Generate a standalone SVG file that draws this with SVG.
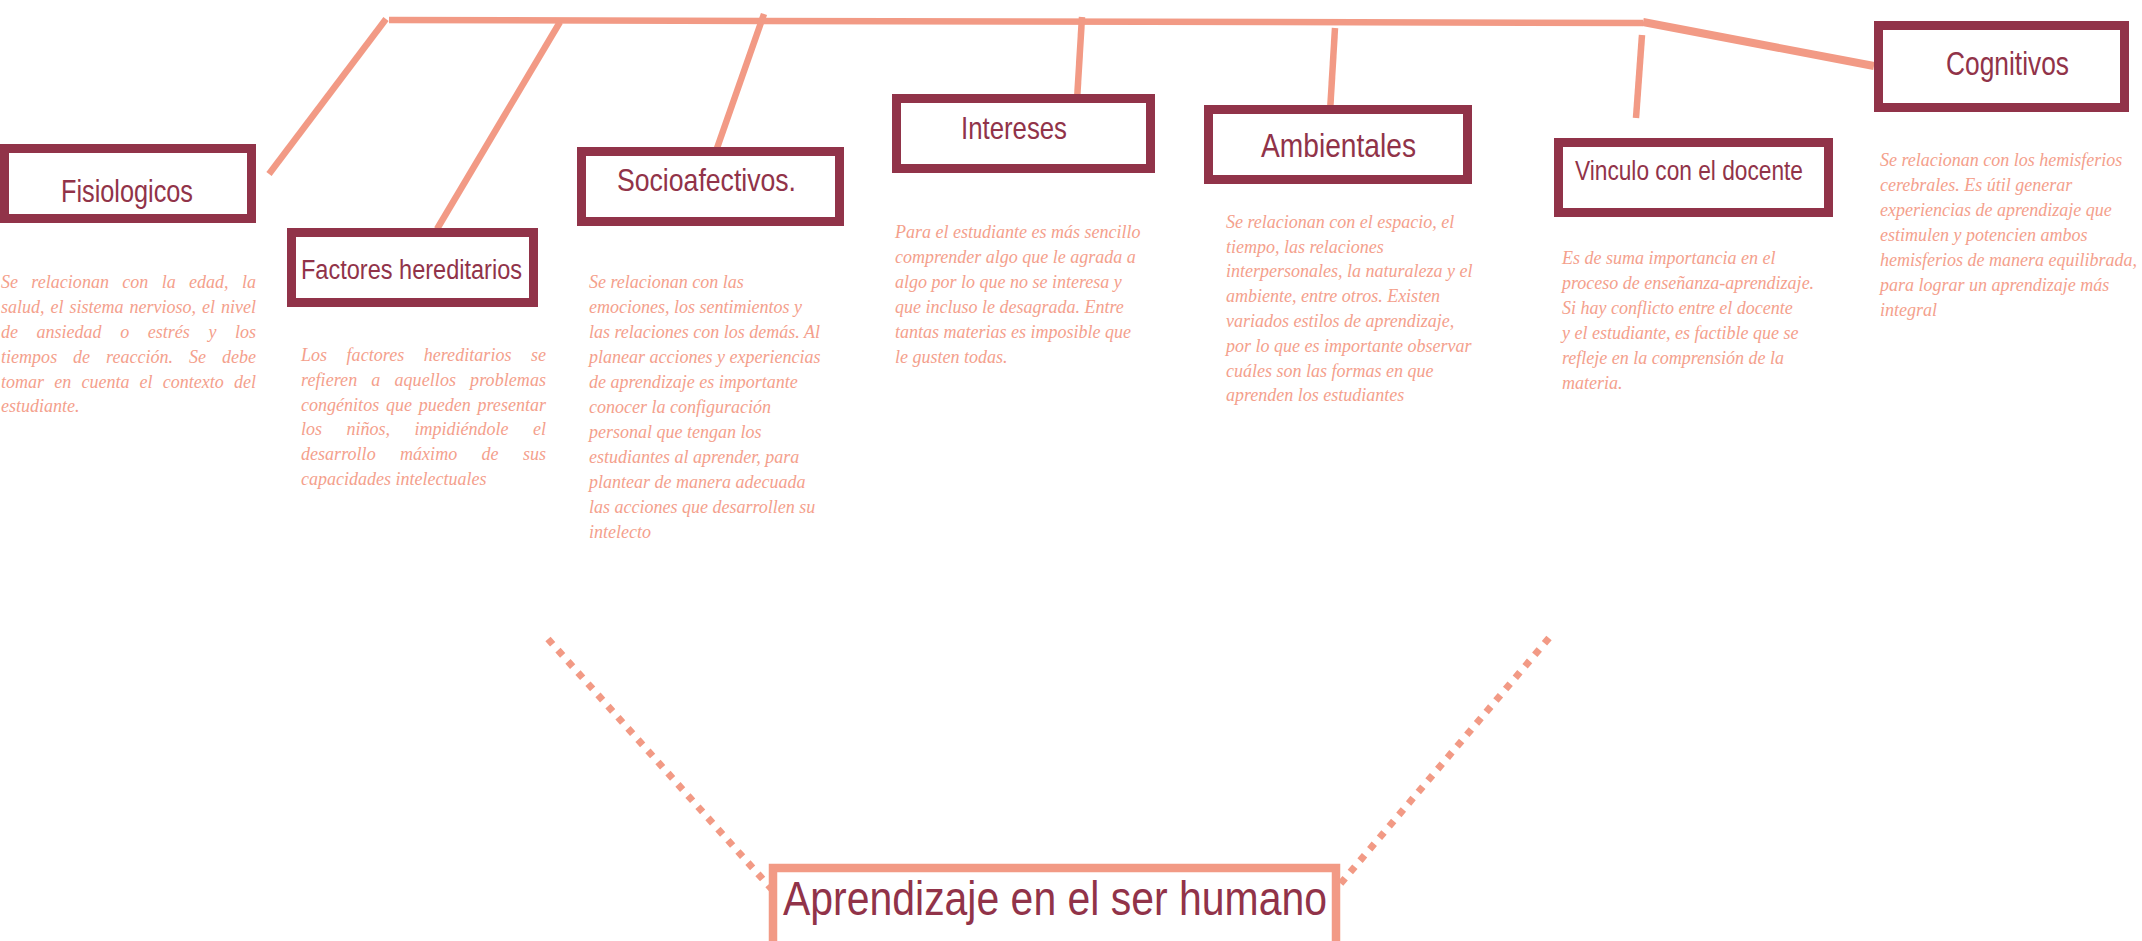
<svg xmlns="http://www.w3.org/2000/svg" width="2142" height="941" viewBox="0 0 2142 941">
<style>
.box{fill:#fff;stroke:#913349;stroke-width:9}
.hd{font-family:"Liberation Sans",Arial,sans-serif;fill:#913349}
.bd{font-family:"Liberation Serif","Times New Roman",serif;font-style:italic;font-size:18px;fill:#F4A08C}
.ln{stroke:#F29A85;stroke-width:6.5;fill:none;stroke-linecap:butt}
.dot{stroke:#F29A85;stroke-width:7;fill:none;stroke-dasharray:7 8}
</style>
<rect width="2142" height="941" fill="#fff"/>
<g id="connectors">
<line class="ln" x1="389" y1="20" x2="1643" y2="23"/>
<line class="ln" x1="386" y1="19" x2="269" y2="174"/>
<line class="ln" x1="560" y1="22" x2="437" y2="229"/>
<line class="ln" x1="764" y1="14" x2="716" y2="151"/>
<line class="ln" x1="1082" y1="17" x2="1077" y2="100"/>
<line class="ln" x1="1335" y1="28" x2="1330" y2="112"/>
<line class="ln" x1="1642" y1="35" x2="1636" y2="118"/>
<line class="ln" x1="1643" y1="22" x2="1874" y2="66" style="stroke-width:8"/>
<line class="dot" x1="548" y1="639" x2="776" y2="894"/>
<line class="dot" x1="1549" y1="638" x2="1330" y2="896"/>
</g>
<g id="fisiologicos">
<rect class="box" x="4.5" y="148.5" width="247" height="70"/>
<text class="hd" x="61" y="202" font-size="32" textLength="132" lengthAdjust="spacingAndGlyphs">Fisiologicos</text>
<text class="bd"><tspan x="1" y="288" word-spacing="8.8" textLength="255" lengthAdjust="spacing">Se relacionan con la edad, la</tspan><tspan x="1" y="313" word-spacing="1.5" textLength="255" lengthAdjust="spacing">salud, el sistema nervioso, el nivel</tspan><tspan x="1" y="338" word-spacing="14.1" textLength="255" lengthAdjust="spacing">de ansiedad o estrés y los</tspan><tspan x="1" y="363" word-spacing="11.4" textLength="255" lengthAdjust="spacing">tiempos de reacción. Se debe</tspan><tspan x="1" y="388" word-spacing="5.7" textLength="255" lengthAdjust="spacing">tomar en cuenta el contexto del</tspan><tspan x="1" y="412" word-spacing="0">estudiante.</tspan></text>
</g>
<g id="factores">
<rect class="box" x="291.5" y="232.5" width="242" height="70"/>
<text class="hd" x="301" y="279" font-size="27" textLength="221" lengthAdjust="spacingAndGlyphs">Factores hereditarios</text>
<text class="bd"><tspan x="301" y="361" word-spacing="14.8" textLength="245" lengthAdjust="spacing">Los factores hereditarios se</tspan><tspan x="301" y="386" word-spacing="9.5" textLength="245" lengthAdjust="spacing">refieren a aquellos problemas</tspan><tspan x="301" y="411" word-spacing="2.2" textLength="245" lengthAdjust="spacing">congénitos que pueden presentar</tspan><tspan x="301" y="435" word-spacing="20" textLength="245" lengthAdjust="spacing">los niños, impidiéndole el</tspan><tspan x="301" y="460" word-spacing="19.8" textLength="245" lengthAdjust="spacing">desarrollo máximo de sus</tspan><tspan x="301" y="485" word-spacing="0">capacidades intelectuales</tspan></text>
</g>
<g id="socioafectivos">
<rect class="box" x="581.5" y="151.5" width="258" height="70"/>
<text class="hd" x="617" y="191" font-size="32" textLength="179" lengthAdjust="spacingAndGlyphs">Socioafectivos.</text>
<text class="bd"><tspan x="589" y="288">Se relacionan con las</tspan><tspan x="589" y="313">emociones, los sentimientos y</tspan><tspan x="589" y="338">las relaciones con los demás. Al</tspan><tspan x="589" y="363">planear acciones y experiencias</tspan><tspan x="589" y="388">de aprendizaje es importante</tspan><tspan x="589" y="413">conocer la configuración</tspan><tspan x="589" y="438">personal que tengan los</tspan><tspan x="589" y="463">estudiantes al aprender, para</tspan><tspan x="589" y="488">plantear de manera adecuada</tspan><tspan x="589" y="513">las acciones que desarrollen su</tspan><tspan x="589" y="538">intelecto</tspan></text>
</g>
<g id="intereses">
<rect class="box" x="896.5" y="98.5" width="254" height="70"/>
<text class="hd" x="961" y="139" font-size="32" textLength="106" lengthAdjust="spacingAndGlyphs">Intereses</text>
<text class="bd"><tspan x="895" y="238">Para el estudiante es más sencillo</tspan><tspan x="895" y="263">comprender algo que le agrada a</tspan><tspan x="895" y="288">algo por lo que no se interesa y</tspan><tspan x="895" y="313">que incluso le desagrada. Entre</tspan><tspan x="895" y="338">tantas materias es imposible que</tspan><tspan x="895" y="363">le gusten todas.</tspan></text>
</g>
<g id="ambientales">
<rect class="box" x="1208.5" y="109.5" width="259" height="70"/>
<text class="hd" x="1261" y="157" font-size="34" textLength="155" lengthAdjust="spacingAndGlyphs">Ambientales</text>
<text class="bd"><tspan x="1226" y="228">Se relacionan con el espacio, el</tspan><tspan x="1226" y="253">tiempo, las relaciones</tspan><tspan x="1226" y="277">interpersonales, la naturaleza y el</tspan><tspan x="1226" y="302">ambiente, entre otros. Existen</tspan><tspan x="1226" y="327">variados estilos de aprendizaje,</tspan><tspan x="1226" y="352">por lo que es importante observar</tspan><tspan x="1226" y="377">cuáles son las formas en que</tspan><tspan x="1226" y="401">aprenden los estudiantes</tspan></text>
</g>
<g id="vinculo">
<rect class="box" x="1558.5" y="142.5" width="270" height="70"/>
<text class="hd" x="1575" y="180" font-size="27" textLength="228" lengthAdjust="spacingAndGlyphs">Vinculo con el docente</text>
<text class="bd"><tspan x="1562" y="264">Es de suma importancia en el</tspan><tspan x="1562" y="289">proceso de enseñanza-aprendizaje.</tspan><tspan x="1562" y="314">Si hay conflicto entre el docente</tspan><tspan x="1562" y="339">y el estudiante, es factible que se</tspan><tspan x="1562" y="364">refleje en la comprensión de la</tspan><tspan x="1562" y="389">materia.</tspan></text>
</g>
<g id="cognitivos">
<rect class="box" x="1878.5" y="25.5" width="246" height="82"/>
<text class="hd" x="1946" y="75" font-size="34" textLength="123" lengthAdjust="spacingAndGlyphs">Cognitivos</text>
<text class="bd"><tspan x="1880" y="166">Se relacionan con los hemisferios</tspan><tspan x="1880" y="191">cerebrales. Es útil generar</tspan><tspan x="1880" y="216">experiencias de aprendizaje que</tspan><tspan x="1880" y="241">estimulen y potencien ambos</tspan><tspan x="1880" y="266">hemisferios de manera equilibrada,</tspan><tspan x="1880" y="291">para lograr un aprendizaje más</tspan><tspan x="1880" y="316">integral</tspan></text>
</g>
<g id="aprendizaje">
<rect x="773" y="868" width="563" height="110" fill="#fff" stroke="#F29A85" stroke-width="8.5"/>
<text class="hd" x="783" y="915" font-size="48" textLength="544" lengthAdjust="spacingAndGlyphs">Aprendizaje en el ser humano</text>
</g>
</svg>
